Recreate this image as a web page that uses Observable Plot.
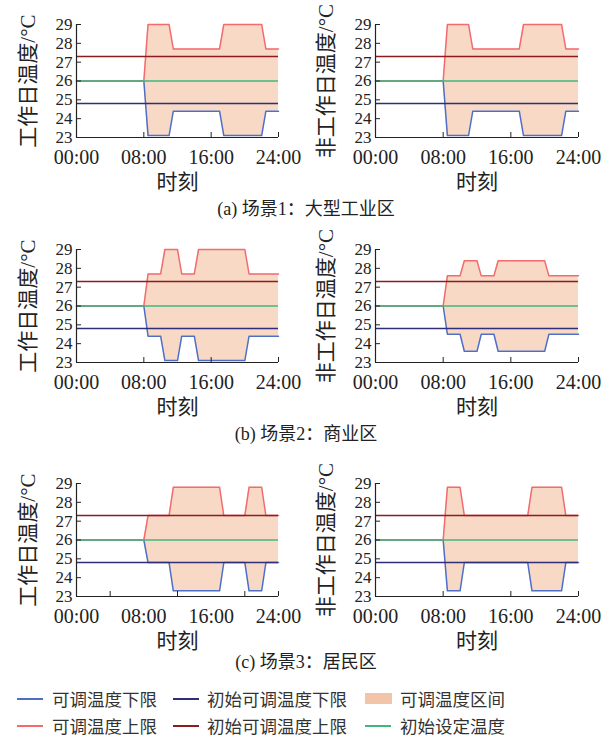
<!DOCTYPE html>
<html>
<head>
<meta charset="utf-8">
<script src="https://cdn.jsdelivr.net/npm/d3@7"></script>
<script src="https://cdn.jsdelivr.net/npm/@observablehq/plot@0.6"></script>
<style>
  html, body { margin: 0; padding: 0; background: #fff; }
  #root { position: relative; width: 612px; height: 739px; background: #fff; overflow: hidden; }
  .panel { position: absolute; }
  .cap { position: absolute; left: 0; width: 612px; text-align: center; font-family: "Liberation Serif", "Noto Sans CJK SC", serif; font-size: 18px; line-height: 20px; color: #222; }
  .leg { position: absolute; font-family: "Noto Sans CJK SC", sans-serif; font-size: 17.5px; line-height: 20px; color: #333; white-space: nowrap; }
  .sw { position: absolute; }
</style>
</head>
<body>
<div id="root"></div>
<script>
// ---- data ----
const hoursA = [0, 8, 8.5, 11, 11.5, 17, 17.5, 22, 22.5, 24];
const upperA1 = [26, 26, 29, 29, 27.7, 27.7, 29, 29, 27.7, 27.7];
const lowerA1 = [26, 26, 23.1, 23.1, 24.4, 24.4, 23.1, 23.1, 24.4, 24.4];
const upperA2 = [26, 26, 29, 29, 27.7, 27.7, 29, 29, 27.7, 27.7];
const lowerA2 = [26, 26, 23.1, 23.1, 24.4, 24.4, 23.1, 23.1, 24.4, 24.4];

const hoursB = [0, 8, 8.5, 10, 10.5, 12, 12.5, 14, 14.5, 20, 20.5, 24];
const upperB1 = [26, 26, 27.7, 27.7, 29, 29, 27.7, 27.7, 29, 29, 27.7, 27.7];
const lowerB1 = [26, 26, 24.4, 24.4, 23.1, 23.1, 24.4, 24.4, 23.1, 23.1, 24.4, 24.4];
const upperB2 = [26, 26, 27.6, 27.6, 28.4, 28.4, 27.6, 27.6, 28.4, 28.4, 27.6, 27.6];
const lowerB2 = [26, 26, 24.5, 24.5, 23.6, 23.6, 24.5, 24.5, 23.6, 23.6, 24.5, 24.5];

const hoursC1 = [0, 8, 8.5, 11, 11.5, 17, 17.5, 20, 20.5, 22, 22.5, 24];
const upperC1 = [26, 26, 27.3, 27.3, 28.8, 28.8, 27.3, 27.3, 28.8, 28.8, 27.3, 27.3];
const lowerC1 = [26, 26, 24.8, 24.8, 23.3, 23.3, 24.8, 24.8, 23.3, 23.3, 24.8, 24.8];
const hoursC2 = [0, 8, 8.5, 10, 10.5, 18, 18.5, 22, 22.5, 24];
const upperC2 = [26, 26, 28.8, 28.8, 27.3, 27.3, 28.8, 28.8, 27.3, 27.3];
const lowerC2 = [26, 26, 23.3, 23.3, 24.8, 24.8, 23.3, 23.3, 24.8, 24.8];

const initUpper = 27.3;
const initLower = 24.8;
const setPoint = 26;

const xTicks = [0, 8, 16, 24];
const xTickLabels = ["00:00", "08:00", "16:00", "24:00"];
const yTicks = [23, 24, 25, 26, 27, 28, 29];
const xLabel = "时刻";
const yLabelWork = "工作日温度/°C";
const yLabelRest = "非工作日温度/°C";
const captions = ["(a) 场景1：大型工业区", "(b) 场景2：商业区", "(c) 场景3：居民区"];
const legendNames = ["可调温度下限", "初始可调温度下限", "可调温度区间", "可调温度上限", "初始可调温度上限", "初始设定温度"];

// ---- styles ----
const C = {
  lower: "#4f6fc6",
  upper: "#f26b6f",
  initLower: "#2e2f78",
  initUpper: "#8c1c22",
  set: "#3fb87e",
  fill: "#f2bf9e",
  ink: "#222"
};

function rowsOf(h, up, lo) {
  return h.map((t, i) => ({t, hi: up[i], lo: lo[i]}));
}

function panel(rows, yLabel, o) {
  return Plot.plot({
    width: 306,
    height: 195,
    marginLeft: o.ml,
    marginRight: o.mr,
    marginTop: 24,
    marginBottom: 58,
    x: {domain: [0, 24]},
    y: {domain: [23, 29]},
    style: {fontFamily: "'Liberation Serif', 'Noto Sans CJK SC', serif", fontSize: "21px", color: C.ink, background: "transparent", overflow: "visible"},
    marks: [
      Plot.areaY(rows, {x: "t", y1: "lo", y2: "hi", fill: C.fill, fillOpacity: 0.6}),
      Plot.lineY(rows, {x: "t", y: "lo", stroke: C.lower, strokeWidth: 1.5}),
      Plot.lineY(rows, {x: "t", y: "hi", stroke: C.upper, strokeWidth: 1.5}),
      Plot.ruleY([initLower], {stroke: C.initLower, strokeWidth: 1.5}),
      Plot.ruleY([initUpper], {stroke: C.initUpper, strokeWidth: 1.5}),
      Plot.ruleY([setPoint], {stroke: C.set, strokeWidth: 1.5}),
      Plot.ruleX([0], {stroke: C.ink, strokeWidth: 1.2}),
      Plot.ruleY([23], {stroke: C.ink, strokeWidth: 1.2}),
      Plot.axisX({ticks: o.tickMarks, tickSize: 5, dy: -5, fill: "none", stroke: C.ink, label: null}),
      Plot.axisY({ticks: yTicks.slice(1), tickSize: 5, dx: 5, fill: "none", stroke: C.ink, label: null}),
      Plot.axisX({ticks: xTicks, tickFormat: (d) => xTickLabels[xTicks.indexOf(d)], tickSize: 0, tickPadding: 12,
        fontSize: 20, label: null, fill: C.ink}),
      Plot.axisX({ticks: [], tickSize: 0, label: xLabel, labelAnchor: "center", labelOffset: 51, labelArrow: "none",
        fontSize: 21, fill: C.ink}),
      Plot.axisY({ticks: yTicks, tickFormat: (d) => String(d), tickSize: 0, tickPadding: 4,
        fontSize: 17, label: null, fill: C.ink}),
      Plot.axisY({ticks: [], tickSize: 0, label: yLabel, labelAnchor: "center", labelOffset: o.lo, labelArrow: "none",
        fontSize: 21, fill: C.ink})
    ]
  });
}

const root = document.getElementById("root");
const specs = [
  {rows: rowsOf(hoursA, upperA1, lowerA1), lab: yLabelWork, left: 0, top: 0, ml: 76, mr: 28, lo: 56, tickMarks: [8, 16, 24]},
  {rows: rowsOf(hoursA, upperA2, lowerA2), lab: yLabelRest, left: 306, top: 0, ml: 69, mr: 34, lo: 57, tickMarks: [8, 16, 24]},
  {rows: rowsOf(hoursB, upperB1, lowerB1), lab: yLabelWork, left: 0, top: 225, ml: 76, mr: 28, lo: 56, tickMarks: [8, 16, 24]},
  {rows: rowsOf(hoursB, upperB2, lowerB2), lab: yLabelRest, left: 306, top: 225, ml: 69, mr: 34, lo: 57, tickMarks: [8, 16, 24]},
  {rows: rowsOf(hoursC1, upperC1, lowerC1), lab: yLabelWork, left: 0, top: 459, ml: 76, mr: 28, lo: 56, tickMarks: [4, 12, 20, 24]},
  {rows: rowsOf(hoursC2, upperC2, lowerC2), lab: yLabelRest, left: 306, top: 459, ml: 69, mr: 34, lo: 57, tickMarks: [8, 16, 24]}
];
for (const s of specs) {
  const el = panel(s.rows, s.lab, s);
  el.classList.add("panel");
  el.style.left = s.left + "px";
  el.style.top = s.top + "px";
  root.appendChild(el);
}

const capY = [209, 434, 662];
captions.forEach((c, i) => {
  const d = document.createElement("div");
  d.className = "cap";
  d.style.top = (capY[i] - 10) + "px";
  d.textContent = c;
  root.appendChild(d);
});

// legend
const legCols = [{sx: 17, tx: 52}, {sx: 173, tx: 207}, {sx: 365, tx: 400}];
const legRows = [699, 726];
const legKinds = [
  {type: "line", color: C.lower}, {type: "line", color: C.initLower}, {type: "rect", color: C.fill},
  {type: "line", color: C.upper}, {type: "line", color: C.initUpper}, {type: "line", color: C.set}
];
legendNames.forEach((name, i) => {
  const col = legCols[i % 3], cy = legRows[Math.floor(i / 3)];
  const k = legKinds[i];
  const sw = document.createElement("div");
  sw.className = "sw";
  if (k.type === "line") {
    sw.style.left = col.sx + "px"; sw.style.top = (cy - 1) + "px";
    sw.style.width = "26px"; sw.style.height = "1.5px"; sw.style.background = k.color;
  } else {
    sw.style.left = col.sx + "px"; sw.style.top = (cy - 6) + "px";
    sw.style.width = "27px"; sw.style.height = "11px"; sw.style.background = k.color; sw.style.opacity = "0.9";
  }
  root.appendChild(sw);
  const t = document.createElement("div");
  t.className = "leg";
  t.style.left = col.tx + "px"; t.style.top = (cy - 10) + "px";
  t.textContent = name;
  root.appendChild(t);
});
</script>
</body>
</html>
